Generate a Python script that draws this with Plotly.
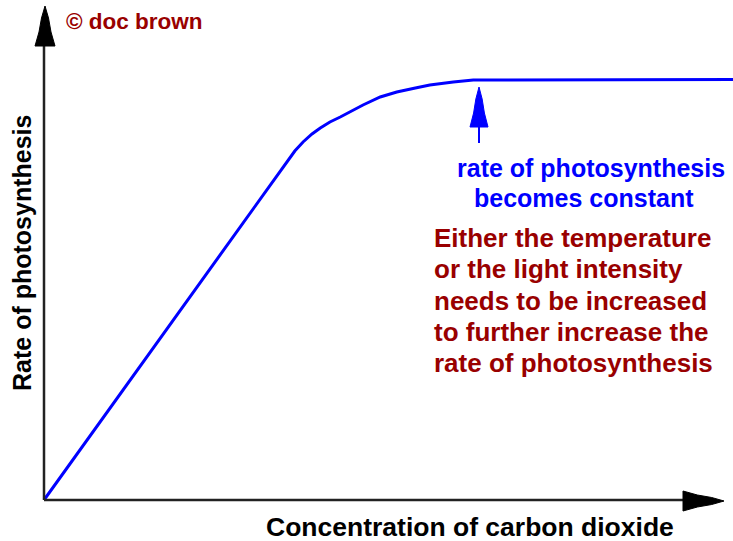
import plotly.graph_objects as go

# Data (arbitrary units, 0-100)
co2 = [0, 36.4, 37.6, 38.9, 40.1, 41.5, 43.0, 44.4, 46.3, 48.8, 51.2, 53.9, 56.0, 59.4, 62.3, 100]
rate = [0, 69.8, 71.6, 73.2, 74.4, 75.6, 76.6, 77.6, 79.0, 80.6, 81.6, 82.4, 83.0, 83.6, 84.0, 84.1]

x_label = "Concentration of carbon dioxide"
y_label = "Rate of photosynthesis"
blue_lines = ["rate of photosynthesis", "becomes constant"]
red_lines = ["Either the temperature", "or the light intensity",
             "needs to be increased", "to further increase the",
             "rate of photosynthesis"]
credit = "© doc brown"

W, H = 733, 541
XPX = 6.89   # px per x unit
YPX = 5.0    # px per y unit
X0, Y0 = 44, 500  # pixel of origin

FONT = "Arial, 'Liberation Sans', sans-serif"
BLUE = "#0000ff"
RED = "#990000"

fig = go.Figure()
fig.add_trace(go.Scatter(x=co2, y=rate, mode="lines",
                         line=dict(color=BLUE, width=3),
                         cliponaxis=False, hoverinfo="skip", showlegend=False))

def dx(px):
    return (px - X0) / XPX

def dy(py):
    return (Y0 - py) / YPX

shapes = []
# axis lines
shapes.append(dict(type="line", x0=0, y0=0, x1=0, y1=dy(44), line=dict(color="#222", width=2.5)))
shapes.append(dict(type="line", x0=0, y0=0, x1=dx(685), y1=0, line=dict(color="#222", width=2.5)))

# arrowheads (narrow tapering shape)
def up_head(cx, tip, base, half):
    x = lambda p: dx(cx + p)
    path = (f"M {x(0)},{dy(tip)} L {x(half*0.35)},{dy(tip + (base-tip)*0.3)} "
            f"L {x(half*0.6)},{dy(tip + (base-tip)*0.65)} L {x(half)},{dy(base)} "
            f"L {x(-half)},{dy(base)} L {x(-half*0.6)},{dy(tip + (base-tip)*0.65)} "
            f"L {x(-half*0.35)},{dy(tip + (base-tip)*0.3)} Z")
    return path

def right_head(cy, tip, base, half):
    y = lambda p: dy(cy + p)
    path = (f"M {dx(tip)},{y(0)} L {dx(tip - (tip-base)*0.3)},{y(half*0.35)} "
            f"L {dx(tip - (tip-base)*0.65)},{y(half*0.6)} L {dx(base)},{y(half)} "
            f"L {dx(base)},{y(-half)} L {dx(tip - (tip-base)*0.65)},{y(-half*0.6)} "
            f"L {dx(tip - (tip-base)*0.3)},{y(-half*0.35)} Z")
    return path

shapes.append(dict(type="path", path=up_head(45, 6, 46, 10), fillcolor="black",
                   line=dict(color="black", width=1)))
shapes.append(dict(type="path", path=right_head(501, 724, 683, 10), fillcolor="black",
                   line=dict(color="black", width=1)))
# blue pointer arrow
shapes.append(dict(type="line", x0=dx(479), y0=dy(125), x1=dx(479), y1=dy(143),
                   line=dict(color=BLUE, width=2)))
shapes.append(dict(type="path", path=up_head(479, 87, 127, 9), fillcolor=BLUE,
                   line=dict(color=BLUE, width=1)))

ann = []
def add_text(text, px, py, size, color, xanchor="center", angle=0):
    ann.append(dict(text=f"<b>{text}</b>", x=px / W, y=1 - py / H, xref="paper", yref="paper",
                    xanchor=xanchor, yanchor="middle", showarrow=False, textangle=angle,
                    font=dict(family=FONT, size=size, color=color)))

add_text(credit, 64, 22, 22.5, RED, xanchor="left")
add_text(x_label, 470, 527, 26.5, "black")
add_text(y_label, 22, 253, 25, "black", angle=-90)
blue_y = [168, 198]
blue_x = [591, 584]
for t, yy, xx in zip(blue_lines, blue_y, blue_x):
    add_text(t, xx, yy, 25, BLUE)
red_y = [238, 269, 301, 332, 363]
for t, yy in zip(red_lines, red_y):
    add_text(t, 432, yy, 26, RED, xanchor="left")

fig.update_layout(
    width=W, height=H,
    margin=dict(l=0, r=0, t=0, b=0),
    paper_bgcolor="white", plot_bgcolor="white",
    xaxis=dict(range=[dx(0), dx(W)], visible=False, fixedrange=True),
    yaxis=dict(range=[dy(H), dy(0)], visible=False, fixedrange=True),
    shapes=shapes, annotations=ann,
)

fig.write_html("out.html", config={"displayModeBar": False},
               post_script="document.body.style.margin='0';document.body.style.overflow='hidden';")
